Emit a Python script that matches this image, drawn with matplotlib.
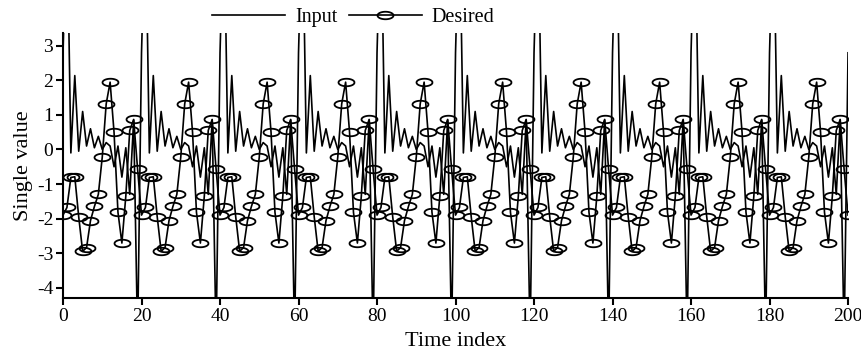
import matplotlib
matplotlib.use("Agg")
import matplotlib.pyplot as plt
import numpy as np

plt.rcParams['font.family'] = ['Liberation Serif', 'DejaVu Serif']
plt.rcParams['font.size'] = 14
plt.rcParams['axes.unicode_minus'] = False

# one period (20 samples) of each signal; the plot repeats it 10 times
input_period = [2.8, 7.0, -0.1, 2.14, -0.05, 1.1, 0.1, 0.6, 0.05, 0.38,
                0.0, 0.2, 0.1, -0.5, 0.1, -0.8, 0.05, -1.3, 0.85, -5.5]
desired_period = [-1.90, -1.68, -0.81, -0.79, -1.95, -2.95, -2.84, -2.06, -1.65, -1.30,
                  -0.22, 1.32, 1.95, 0.50, -1.82, -2.71, -1.35, 0.55, 0.87, -0.57]
n_periods = 10
input_last = 2.8
desired_last = -1.90

x_ticks = [0, 20, 40, 60, 80, 100, 120, 140, 160, 180, 200]
y_ticks = [-4, -3, -2, -1, 0, 1, 2, 3]

input_sig = np.array(input_period * n_periods + [input_last])
desired_sig = np.array(desired_period * n_periods + [desired_last])
t = np.arange(len(input_sig))

# wide ellipse used as the marker
theta = np.linspace(0, 2 * np.pi, 60)
ellipse = np.column_stack([np.cos(theta), 0.47 * np.sin(theta)])

fig = plt.figure(figsize=(8.62, 3.56), dpi=100)
ax = fig.add_axes([0.0731, 0.163, 0.9107, 0.744])

ax.plot(t, input_sig, color='black', lw=1.2, label='Input')
ax.plot(t, desired_sig, color='black', lw=1.2, marker=ellipse, markersize=11.5,
        mfc='none', mec='black', mew=1.3, label='Desired')

ax.set_xlim(0, 200)
ax.set_ylim(-4.3, 3.37)
ax.set_xticks(x_ticks)
ax.set_yticks(y_ticks)

for s in ['top', 'right']:
    ax.spines[s].set_visible(False)
for s in ['left', 'bottom']:
    ax.spines[s].set_linewidth(1.5)
ax.tick_params(direction='out', length=5, width=1.5, pad=2)

ax.set_xlabel('Time index', fontsize=16, labelpad=5)
ax.set_ylabel('Single value', fontsize=16, labelpad=3)

fig.legend(loc='center', bbox_to_anchor=(0.41, 0.952), ncol=2, frameon=False,
           handlelength=3.6, handletextpad=0.5, columnspacing=0.6, fontsize=14.5)

fig.savefig('out.png', dpi=100)
